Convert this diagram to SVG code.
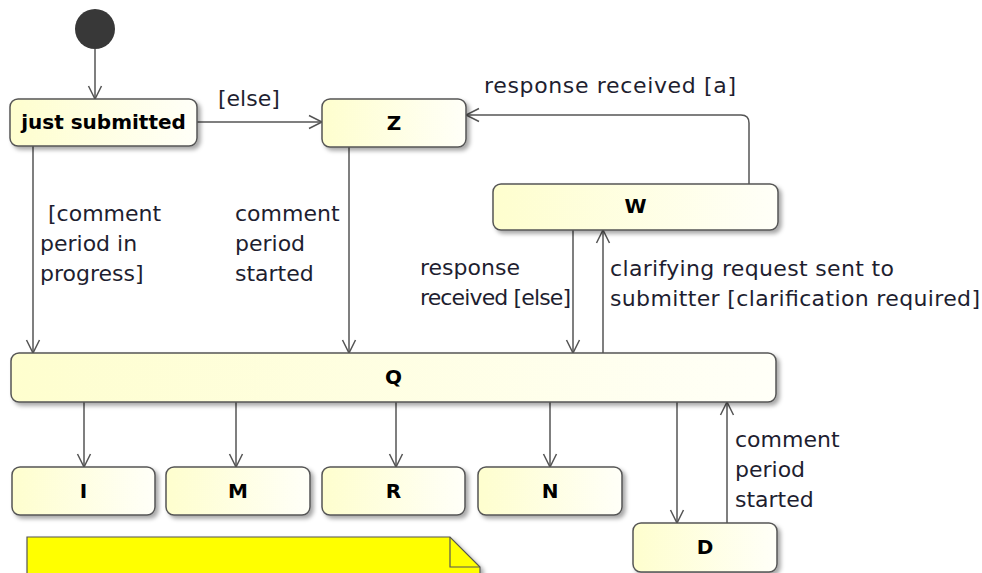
<svg xmlns="http://www.w3.org/2000/svg" width="982" height="573" viewBox="0 0 982 573">
<style>
.node{fill:url(#g);stroke:#555;stroke-width:1.5;filter:url(#sh)}
.nl{font-family:"DejaVu Sans",Verdana,sans-serif;font-weight:bold;font-size:20px;fill:#000;text-anchor:middle}
.el{font-family:"DejaVu Sans",Verdana,sans-serif;font-size:22px;fill:#1e1e30}
.edge{fill:none;stroke:#555;stroke-width:1.5;marker-end:url(#arr)}
</style>
<defs>
<linearGradient id="g" x1="0" y1="0" x2="1" y2="0">
<stop offset="0" stop-color="#FEFECE"/>
<stop offset="1" stop-color="#FFFFF8"/>
</linearGradient>
<filter id="sh" x="-10%" y="-20%" width="120%" height="160%">
<feDropShadow dx="3" dy="3" stdDeviation="2" flood-color="#000" flood-opacity="0.35"/>
</filter>
<marker id="arr" markerWidth="18" markerHeight="18" refX="15" refY="9" orient="auto" markerUnits="userSpaceOnUse">
<path d="M2,2.5 L15,9 L2,15.5" fill="none" stroke="#555" stroke-width="1.5"/>
</marker>
</defs>

<g id="connectors">
<path class="edge" d="M95,49 V99"/>
<path class="edge" d="M197,122 H322"/>
<text class="el" x="218" y="106">[else]</text>
<path class="edge" d="M33,146 V353"/>
<text class="el" x="48" y="221">[comment</text>
<text class="el" x="40" y="251">period in</text>
<text class="el" x="40" y="281">progress]</text>
<path class="edge" d="M349,147 V353"/>
<text class="el" x="235" y="221">comment</text>
<text class="el" x="235" y="251">period</text>
<text class="el" x="235" y="281">started</text>
<path class="edge" d="M749,184 V123 Q749,115 741,115 H466"/>
<text class="el" x="484" y="93" textLength="252">response received [a]</text>
<path class="edge" d="M573,230 V353"/>
<text class="el" x="420" y="275">response</text>
<text class="el" x="420" y="305" textLength="151">received [else]</text>
<path class="edge" d="M603,353 V230"/>
<text class="el" x="610" y="276" textLength="284">clarifying request sent to</text>
<text class="el" x="610" y="306" textLength="370">submitter [clarification required]</text>
<path class="edge" d="M84,402 V467"/>
<path class="edge" d="M236,402 V467"/>
<path class="edge" d="M396,402 V467"/>
<path class="edge" d="M550,402 V467"/>
<path class="edge" d="M677,402 V523"/>
<path class="edge" d="M727,523 V402"/>
<text class="el" x="735" y="447">comment</text>
<text class="el" x="735" y="477">period</text>
<text class="el" x="735" y="507">started</text>
</g>

<g id="start">
<circle cx="95" cy="29" r="20" fill="#383838"/>
</g>
<g id="just_submitted">
<rect class="node" x="10" y="99" width="187" height="47" rx="8"/>
<text class="nl" x="103.5" y="129">just submitted</text>
</g>
<g id="Z">
<rect class="node" x="322" y="99" width="144" height="48" rx="8"/>
<text class="nl" x="394" y="130">Z</text>
</g>
<g id="W">
<rect class="node" x="493" y="184" width="285" height="46" rx="8"/>
<text class="nl" x="635.5" y="213">W</text>
</g>
<g id="Q">
<rect class="node" x="11" y="353" width="765" height="49" rx="8"/>
<text class="nl" x="393.5" y="384">Q</text>
</g>
<g id="I">
<rect class="node" x="12" y="467" width="143" height="48" rx="8"/>
<text class="nl" x="83.5" y="498">I</text>
</g>
<g id="M">
<rect class="node" x="166" y="467" width="144" height="48" rx="8"/>
<text class="nl" x="238" y="498">M</text>
</g>
<g id="R">
<rect class="node" x="322" y="467" width="143" height="48" rx="8"/>
<text class="nl" x="393.5" y="498">R</text>
</g>
<g id="N">
<rect class="node" x="478" y="467" width="144" height="48" rx="8"/>
<text class="nl" x="550" y="498">N</text>
</g>
<g id="D">
<rect class="node" x="633" y="523" width="144" height="49" rx="8"/>
<text class="nl" x="705" y="554">D</text>
</g>
<g id="note">
<path d="M27,537 H450 L480,567 V590 H27 Z" fill="#FFFF00" stroke="#555" stroke-width="1.2" filter="url(#sh)"/>
<path d="M450,537 V567 H480" fill="none" stroke="#555" stroke-width="1.2"/>
</g>
</svg>
